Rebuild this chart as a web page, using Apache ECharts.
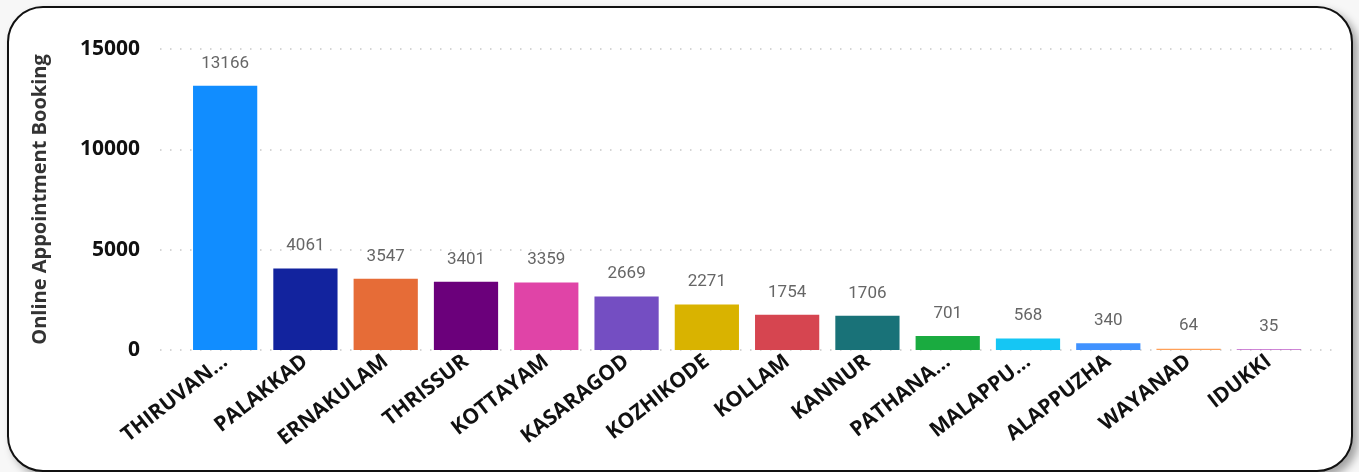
<!DOCTYPE html>
<html>
<head>
<meta charset="utf-8">
<title>Online Appointment Booking</title>
<script src="https://cdn.jsdelivr.net/npm/echarts@6/dist/echarts.min.js"></script>
<style>
    html, body { margin: 0; padding: 0; background: #f7f7f7; }
    #card {
        position: absolute; left: 7px; top: 6px; width: 1342px; height: 462px;
        background: #fff; border: 2px solid #111; border-radius: 36px;
        box-shadow: 5px 5px 9px rgba(0, 0, 0, 0.35);
    }
    #main { position: absolute; left: 0; top: 0; width: 1359px; height: 472px; }
</style>
</head>
<body>
<div id="card"></div>
<div id="main"></div>
<script>
// districts as shown on the axis (long names truncated like the source)
var districts = ['THIRUVAN...', 'PALAKKAD', 'ERNAKULAM', 'THRISSUR', 'KOTTAYAM', 'KASARAGOD',
    'KOZHIKODE', 'KOLLAM', 'KANNUR', 'PATHANA...', 'MALAPPU...', 'ALAPPUZHA', 'WAYANAD', 'IDUKKI'];
var bookings = [13166, 4061, 3547, 3401, 3359, 2669, 2271, 1754, 1706, 701, 568, 340, 64, 35];
var barColors = ['#118DFF', '#12239E', '#E66C37', '#6B007B', '#E044A7', '#744EC2', '#D9B300',
    '#D64550', '#197278', '#1AAB40', '#15C6F4', '#4092FF', '#FFA058', '#BE5DC9'];
var yTicks = [0, 5000, 10000, 15000];

init();

function init(){
    var myChart = echarts.init(document.getElementById('main'));
    var yMax = yTicks[yTicks.length - 1];
    var step = yTicks[1] - yTicks[0];

    var option = {
        backgroundColor: 'transparent',
        animation: false,
        grid: [
            // wide grid only carries the y axis + dotted gridlines
            { left: 160, right: 27, top: 49, bottom: 122 },
            // bars sit in a slightly narrower band like the source
            { left: 185, right: 50, top: 49, bottom: 122 }
        ],
        xAxis: [
            {
                gridIndex: 0, type: 'category', data: districts, show: false
            },
            {
                gridIndex: 1, type: 'category', data: districts,
                axisLine: { show: false },
                axisTick: { show: false },
                axisLabel: {
                    interval: 0,
                    rotate: 38,
                    margin: 9,
                    color: '#111',
                    fontFamily: 'Open Sans',
                    fontWeight: 'bold',
                    fontSize: 21
                }
            }
        ],
        yAxis: [
            {
                gridIndex: 0, type: 'value', min: 0, max: yMax, interval: step,
                name: 'Online Appointment Booking',
                nameLocation: 'middle',
                nameGap: 110,
                nameTextStyle: { color: '#333', fontFamily: 'Open Sans', fontWeight: 'bold', fontSize: 20 },
                axisLine: { show: false },
                axisTick: { show: false },
                axisLabel: {
                    margin: 20, color: '#111', fontFamily: 'Open Sans', fontWeight: 'bold', fontSize: 21,
                    formatter: function(v){ return String(v); }
                },
                splitLine: { show: true, lineStyle: { color: '#c8c8c8', width: 1.5, type: [1.5, 8.5] } }
            },
            {
                gridIndex: 1, type: 'value', min: 0, max: yMax, interval: step, show: false,
                splitLine: { show: false }
            }
        ],
        series: [
            {
                name: 'Online Appointment Booking',
                type: 'bar',
                xAxisIndex: 1,
                yAxisIndex: 1,
                barCategoryGap: '20%',
                data: bookings.map(function(v, i){
                    return { value: v, itemStyle: { color: barColors[i] } };
                }),
                label: {
                    show: true,
                    position: 'top',
                    distance: 14,
                    color: '#666',
                    fontFamily: 'Roboto',
                    fontSize: 17,
                    letterSpacing: 1.4
                }
            }
        ]
    };
    myChart.setOption(option);
}
</script>
</body>
</html>
